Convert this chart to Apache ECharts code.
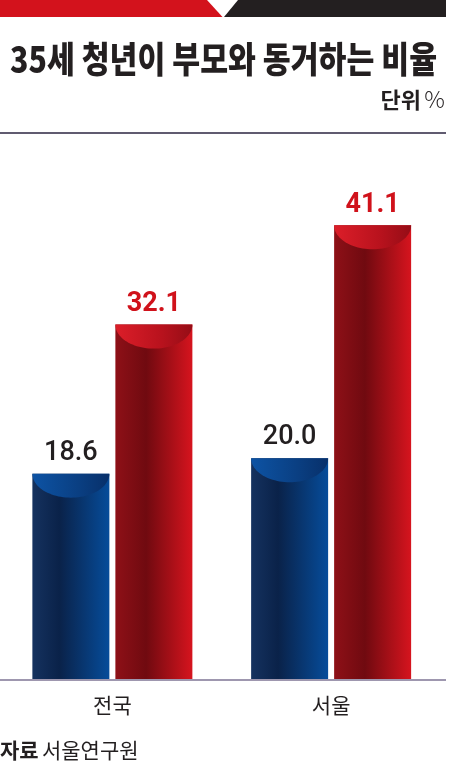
<!DOCTYPE html>
<html>
<head>
<meta charset="utf-8">
<script src="https://cdn.jsdelivr.net/npm/echarts@6/dist/echarts.min.js"></script>
<style>
html,body{margin:0;padding:0;background:#fff;}
#chart{width:450px;height:780px;}
</style>
</head>
<body>
<div id="chart"></div>
<script>
// ---- data ----
const categories = ['전국', '서울'];
const blueValues = [18.6, 20.0];
const redValues = [32.1, 41.1];
const titleText = '35세 청년이 부모와 동거하는 비율';
const unitText = '단위';
const sourceLabel = '자료';
const sourceText = '서울연구원';

// ---- styles ----
const KR = 'Noto Sans CJK KR';
const BAR_W = 77;
const HALF_STEP = 41.5;
const CAP_RY = 24;

const chart = echarts.init(document.getElementById('chart'), null, {renderer: 'canvas'});

// fit title to reference width
const mctx = document.createElement('canvas').getContext('2d');
mctx.font = '900 36px "' + KR + '"';
const titleScale = 427 / mctx.measureText(titleText).width;

function hGrad(stops) {
  return new echarts.graphic.LinearGradient(0, 0, 1, 0, stops.map(c => ({offset: c[0], color: c[1]})));
}

const blueBody = hGrad([[0, '#15325f'], [0.35, '#0a2249'], [1, '#064c9a']]);
const redBody = hGrad([[0, '#8e1017'], [0.4, '#700a10'], [1, '#d6141e']]);
const blueCap = [[0, '#0d53a4'], [0.6, '#0a3f82'], [1, '#08306a']];
const redCap = [[0, '#dc1e29'], [0.6, '#b8121d'], [1, '#950d16']];

function capRenderer(offset, stops) {
  return function (params, api) {
    const idx = api.value(0);
    const v = api.value(1);
    const p = api.coord([idx, v]);
    const cx = p[0] + offset;
    const top = p[1];
    const rx = BAR_W / 2;
    const pts = [];
    for (let k = 0; k <= 48; k++) {
      const t = Math.PI * k / 48;
      pts.push([cx - rx * Math.cos(t), top + CAP_RY * Math.sin(t)]);
    }
    return {
      type: 'polygon',
      shape: {points: pts},
      style: {fill: hGrad(stops)}
    };
  };
}

const option = {
  animation: false,
  backgroundColor: '#ffffff',
  grid: {left: 3, right: 9.5, top: 127, bottom: 101, containLabel: false},
  xAxis: {
    type: 'category',
    data: categories,
    axisLine: {show: false},
    axisTick: {show: false},
    axisLabel: {
      show: true, margin: 16, color: '#231f20', fontSize: 21,
      fontFamily: KR
    }
  },
  yAxis: {
    type: 'value', min: 0, max: 50, show: false,
    splitLine: {show: false}
  },
  series: [
    {
      type: 'bar', name: 'blue', data: blueValues,
      barWidth: BAR_W, barGap: '7.8%',
      itemStyle: {color: blueBody},
      label: {
        show: true, position: 'top', distance: 7,
        color: '#231f20', fontSize: 27, fontWeight: 500,
        fontFamily: 'Roboto',
        formatter: p => p.value.toFixed(1)
      },
      z: 2
    },
    {
      type: 'bar', name: 'red', data: redValues,
      barWidth: BAR_W, barGap: '7.8%',
      itemStyle: {color: redBody},
      label: {
        show: true, position: 'top', distance: 7,
        color: '#d0121b', fontSize: 27, fontWeight: 'bold',
        fontFamily: 'Roboto',
        formatter: p => p.value.toFixed(1)
      },
      z: 2
    },
    {
      type: 'custom', name: 'blueCap',
      data: blueValues.map((v, i) => [i, v]),
      encode: {x: 0, y: 1},
      renderItem: capRenderer(-HALF_STEP, blueCap),
      z: 3
    },
    {
      type: 'custom', name: 'redCap',
      data: redValues.map((v, i) => [i, v]),
      encode: {x: 0, y: 1},
      renderItem: capRenderer(HALF_STEP, redCap),
      z: 3
    }
  ],
  graphic: [
    {type: 'polygon', shape: {points: [[0, 0], [207, 0], [222.5, 17], [0, 17]]}, style: {fill: '#d3121c'}},
    {type: 'polygon', shape: {points: [[238, 0], [446, 0], [446, 17], [224, 17]]}, style: {fill: '#231f20'}},
    {
      type: 'text', x: 10, y: 41, scaleX: titleScale, scaleY: 1,
      style: {
        text: titleText, fontSize: 36, fontWeight: 900, fontFamily: KR, fill: '#231f20',
        textAlign: 'left', textVerticalAlign: 'top'
      }
    },
    {
      type: 'text', x: 445, y: 88,
      style: {
        text: '{b|' + unitText + '} {n|%}',
        textAlign: 'right', textVerticalAlign: 'top',
        rich: {
          b: {fontSize: 22, fontWeight: 'bold', fontFamily: KR, fill: '#231f20'},
          n: {fontSize: 23, fontWeight: 300, fontFamily: KR, fill: '#231f20'}
        }
      }
    },
    {type: 'line', shape: {x1: 0, y1: 133, x2: 446, y2: 133}, style: {stroke: '#2b2541', lineWidth: 1.5}},
    {type: 'line', shape: {x1: 0, y1: 680, x2: 446, y2: 680}, style: {stroke: '#7e7495', lineWidth: 1.5}},
    {
      type: 'text', x: 0, y: 740,
      style: {
        text: '{b|' + sourceLabel + '} {n|' + sourceText + '}',
        textAlign: 'left', textVerticalAlign: 'top',
        rich: {
          b: {fontSize: 21, fontWeight: 'bold', fontFamily: KR, fill: '#231f20'},
          n: {fontSize: 21, fontWeight: 'normal', fontFamily: KR, fill: '#231f20'}
        }
      }
    }
  ]
};
chart.setOption(option);
</script>
</body>
</html>
